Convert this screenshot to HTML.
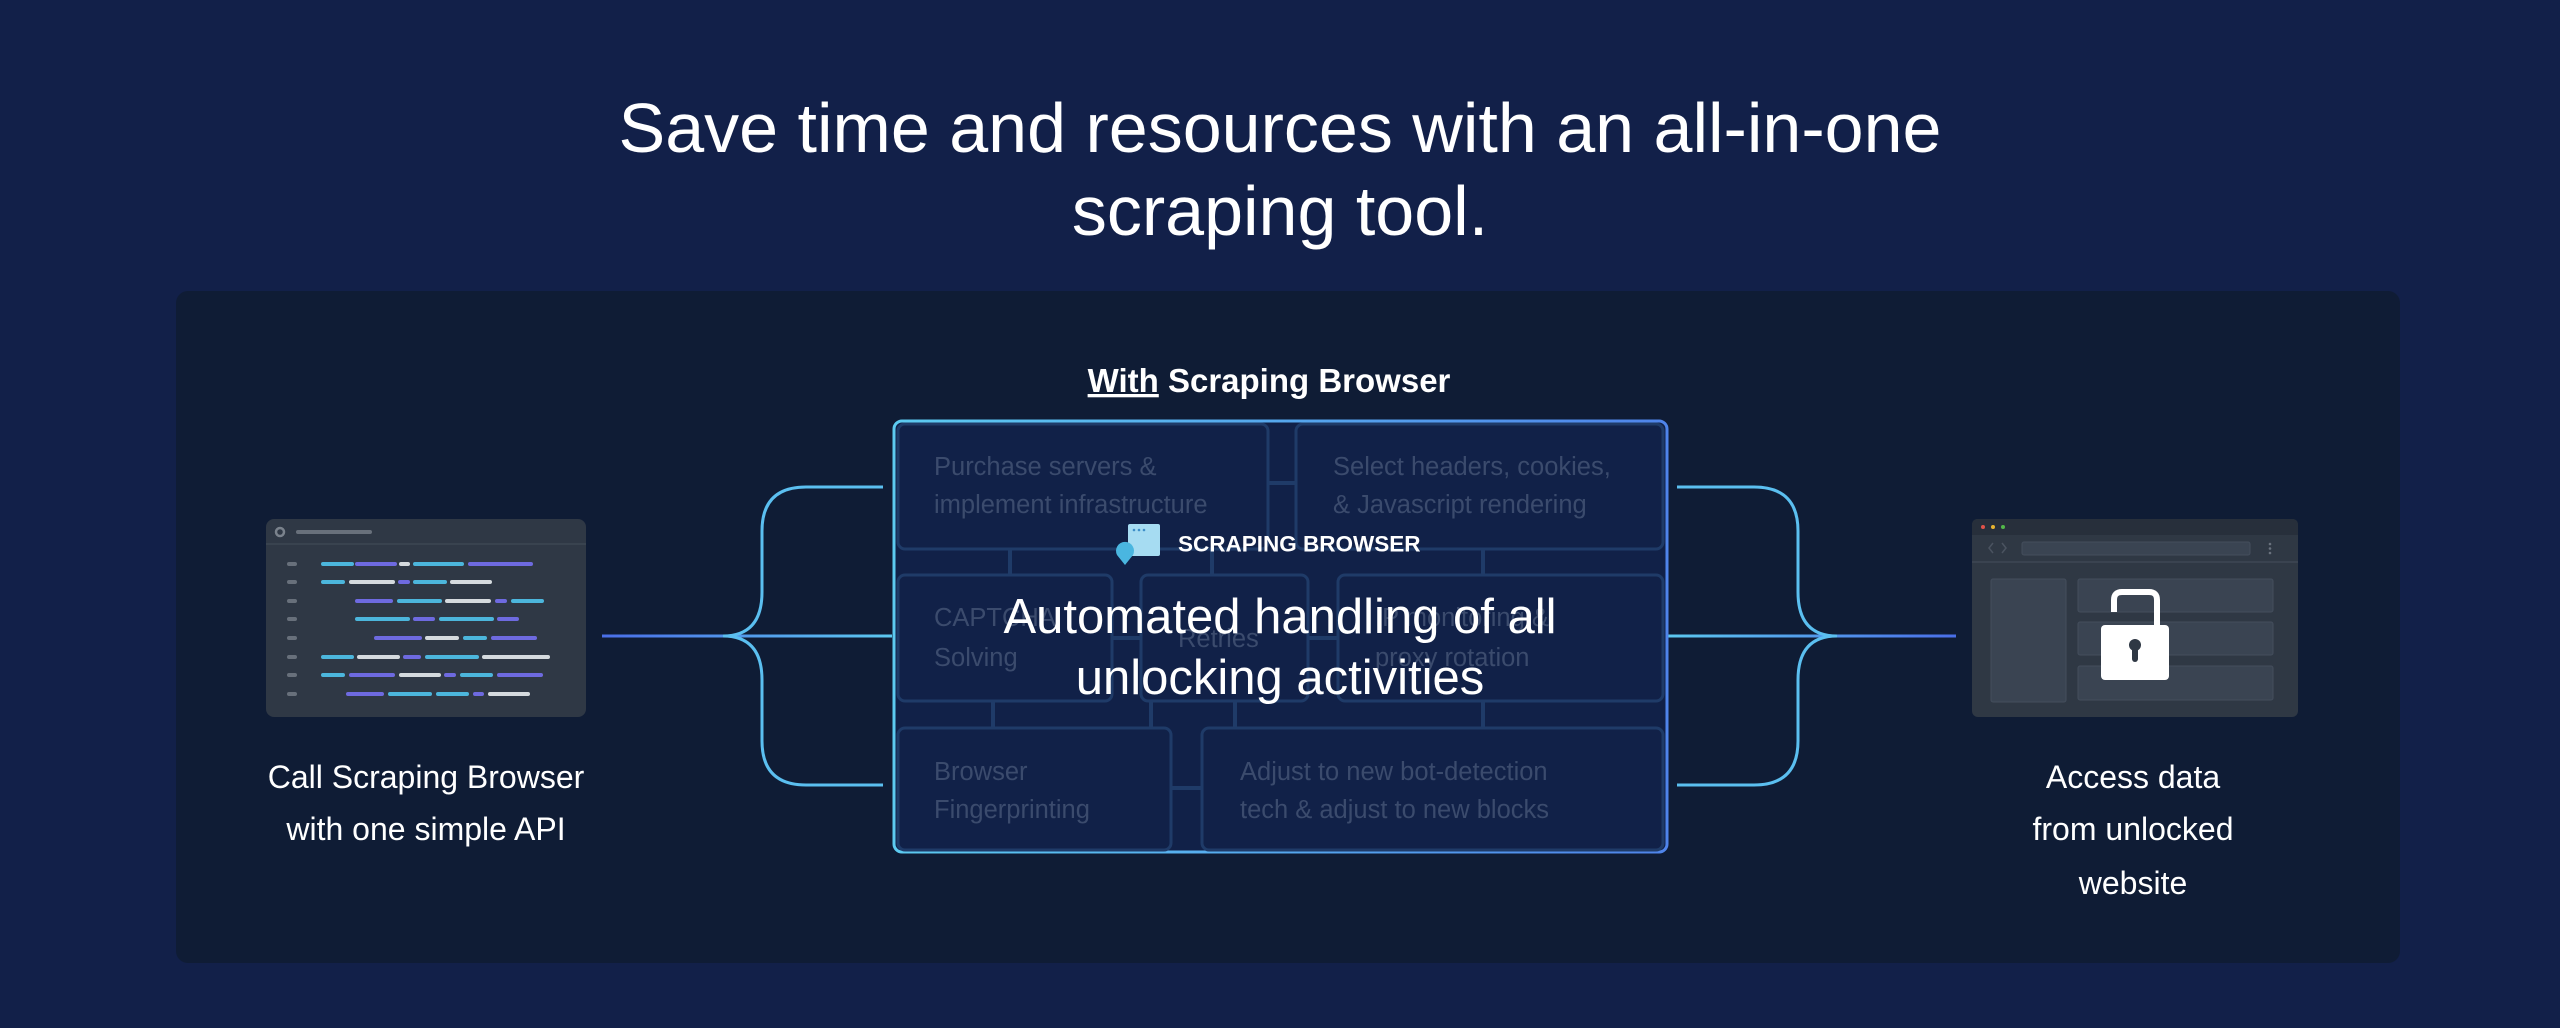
<!DOCTYPE html>
<html><head><meta charset="utf-8"><style>
html,body{margin:0;padding:0;background:#122049;}
svg{display:block;font-family:"Liberation Sans",sans-serif;}
</style></head><body>
<svg width="2560" height="1028" viewBox="0 0 2560 1028" xmlns="http://www.w3.org/2000/svg">
<defs>
<linearGradient id="gl" x1="602" y1="0" x2="892" y2="0" gradientUnits="userSpaceOnUse"><stop offset="0" stop-color="#4a6ee8"/><stop offset="1" stop-color="#5cc8f0"/></linearGradient>
<linearGradient id="gr" x1="1668" y1="0" x2="1956" y2="0" gradientUnits="userSpaceOnUse"><stop offset="0" stop-color="#5cc8f0"/><stop offset="1" stop-color="#4a6ee8"/></linearGradient>
<linearGradient id="gb" x1="894" y1="0" x2="1667" y2="0" gradientUnits="userSpaceOnUse"><stop offset="0" stop-color="#5ccaf0"/><stop offset="1" stop-color="#4f84ea"/></linearGradient>
</defs>
<rect width="2560" height="1028" fill="#122049"/>
<text x="1280" y="152" text-anchor="middle" font-size="70" fill="#fff">Save time and resources with an all-in-one</text>
<text x="1280" y="235" text-anchor="middle" font-size="70" fill="#fff">scraping tool.</text>
<rect x="176" y="291" width="2224" height="672" rx="12" fill="#0f1c35"/>

<text x="1269" y="392" text-anchor="middle" font-size="33" font-weight="bold" fill="#fff"><tspan text-decoration="underline">With</tspan> Scraping Browser</text>

<g fill="none" stroke-width="3">
<line x1="602" y1="636" x2="892" y2="636" stroke="url(#gl)"/>
<path d="M883 487 H806 Q762 487 762 531 V592 Q762 636 723 636 M883 785 H806 Q762 785 762 741 V680 Q762 636 723 636" stroke="#5bbff0"/>
<line x1="1668" y1="636" x2="1956" y2="636" stroke="url(#gr)"/>
<path d="M1677 487 H1754 Q1798 487 1798 531 V592 Q1798 636 1837 636 M1677 785 H1754 Q1798 785 1798 741 V680 Q1798 636 1837 636" stroke="#5bbff0"/>
</g>

<rect x="894" y="421" width="773" height="431" rx="8" fill="#112148" stroke="url(#gb)" stroke-width="3"/>
<g stroke="#1f3b68" stroke-width="4" fill="none">
<line x1="1267" y1="483" x2="1296" y2="483"/>
<line x1="1010" y1="549" x2="1010" y2="575"/>
<line x1="1212" y1="549" x2="1212" y2="575"/>
<line x1="1483" y1="549" x2="1483" y2="575"/>
<line x1="1112" y1="638" x2="1141" y2="638"/>
<line x1="1308" y1="638" x2="1338" y2="638"/>
<line x1="993" y1="701" x2="993" y2="728"/>
<line x1="1151" y1="701" x2="1151" y2="728"/>
<line x1="1235" y1="701" x2="1235" y2="728"/>
<line x1="1483" y1="701" x2="1483" y2="728"/>
<line x1="1171" y1="788" x2="1202" y2="788"/>
</g>
<g fill="#112148" stroke="#1f3b68" stroke-width="3">
<rect x="898" y="424" width="370" height="125" rx="7"/>
<rect x="1296" y="424" width="367" height="125" rx="7"/>
<rect x="898" y="575" width="214" height="126" rx="7"/>
<rect x="1141" y="575" width="167" height="126" rx="7"/>
<rect x="1338" y="575" width="325" height="126" rx="7"/>
<rect x="898" y="728" width="273" height="122" rx="7"/>
<rect x="1202" y="728" width="461" height="122" rx="7"/>
</g>
<g font-size="25.5" fill="#3b4b6d" dominant-baseline="central">
<text x="934" y="467">Purchase servers &amp;</text>
<text x="934" y="505">implement infrastructure</text>
<text x="1333" y="467">Select headers, cookies,</text>
<text x="1333" y="505">&amp; Javascript rendering</text>
<text x="934" y="618">CAPTCHA</text>
<text x="934" y="658">Solving</text>
<text x="1178" y="639">Retries</text>
<text x="1375" y="618">IP monitoring &amp;</text>
<text x="1375" y="658">proxy rotation</text>
<text x="934" y="772">Browser</text>
<text x="934" y="810">Fingerprinting</text>
<text x="1240" y="772">Adjust to new bot-detection</text>
<text x="1240" y="810">tech &amp; adjust to new blocks</text>
</g>
<rect x="1128" y="524" width="32" height="32" rx="2" fill="#a6dcf2"/>
<circle cx="1134" cy="530" r="1.3" fill="#3f8fc8"/><circle cx="1139" cy="530" r="1.3" fill="#3f8fc8"/><circle cx="1144" cy="530" r="1.3" fill="#3f8fc8"/>
<path d="M1125 565 L1117 555 A9 9 0 1 1 1133 555 Z" fill="#4ab6e0"/>
<text x="1178" y="544" font-size="22.5" font-weight="bold" fill="#fff" dominant-baseline="central">SCRAPING BROWSER</text>
<text x="1280" y="617" text-anchor="middle" font-size="49" fill="#fff" dominant-baseline="central">Automated handling of all</text>
<text x="1280" y="678" text-anchor="middle" font-size="49" fill="#fff" dominant-baseline="central">unlocking activities</text>

<rect x="266" y="519" width="320" height="198" rx="8" fill="#2f3845"/>
<line x1="266" y1="544" x2="586" y2="544" stroke="#39434f" stroke-width="2"/>
<circle cx="280" cy="532" r="4" fill="none" stroke="#7a828c" stroke-width="2.5"/>
<rect x="296" y="530" width="76" height="4" rx="2" fill="#68707b"/>
<g stroke-width="4" stroke-linecap="round">
<g stroke="#68707b"><path d="M289 564h6M289 582h6M289 601h6M289 619h6M289 638h6M289 657h6M289 675h6M289 694h6"/></g>
<g stroke="#4cb6dc"><path d="M323 564h29M415 564h47M323 582h20M415 582h30M399 601h41M513 601h29M357 619h51M441 619h51M465 638h20M323 657h29M427 657h50M323 675h20M462 675h29M390 694h40M438 694h29"/></g>
<g stroke="#6e6ae0"><path d="M357 564h38M470 564h61M400 582h8M357 601h34M497 601h8M415 619h18M499 619h18M376 638h44M493 638h42M405 657h14M351 675h42M446 675h8M499 675h42M348 694h34M475 694h7"/></g>
<g stroke="#d5dade"><path d="M401 564h7M351 582h42M452 582h38M447 601h42M427 638h30M359 657h39M484 657h64M401 675h38M490 694h38"/></g>
</g>
<text x="426" y="777" text-anchor="middle" font-size="32" fill="#fff" dominant-baseline="central">Call Scraping Browser</text>
<text x="426" y="829" text-anchor="middle" font-size="32" fill="#fff" dominant-baseline="central">with one simple API</text>

<rect x="1972" y="519" width="326" height="198" rx="6" fill="#2f3844"/>
<path d="M1972 535 V525 Q1972 519 1978 519 H2292 Q2298 519 2298 525 V535 Z" fill="#272f3b"/>
<line x1="1972" y1="562" x2="2298" y2="562" stroke="#3a4350" stroke-width="2"/>
<circle cx="1983" cy="527" r="2" fill="#e0524a"/><circle cx="1993" cy="527" r="2" fill="#e8b430"/><circle cx="2003" cy="527" r="2" fill="#52b84a"/>
<path d="M1993 543 l-4 5 l4 5 M2002 543 l4 5 l-4 5" fill="none" stroke="#4a5360" stroke-width="1.5"/>
<rect x="2022" y="542" width="228" height="13" rx="2" fill="#3a4452" stroke="#444e5c"/>
<circle cx="2270" cy="544" r="1.3" fill="#6a727e"/><circle cx="2270" cy="548.5" r="1.3" fill="#6a727e"/><circle cx="2270" cy="553" r="1.3" fill="#6a727e"/>
<g fill="#3a4452" stroke="#444e5c" stroke-width="1">
<rect x="1991" y="579" width="75" height="123" rx="2"/>
<rect x="2078" y="579" width="195" height="33" rx="2"/>
<rect x="2078" y="622" width="195" height="33" rx="2"/>
<rect x="2078" y="666" width="195" height="34" rx="2"/>
</g>
<path d="M2114 612 V600 Q2114 592 2122 592 H2149 Q2157 592 2157 600 V626" fill="none" stroke="#fff" stroke-width="6"/>
<rect x="2101" y="625" width="68" height="55" rx="4" fill="#fff"/>
<circle cx="2135" cy="645" r="6" fill="#2f3844"/>
<rect x="2132" y="645" width="6" height="17" rx="3" fill="#2f3844"/>
<text x="2133" y="777" text-anchor="middle" font-size="32" fill="#fff" dominant-baseline="central">Access data</text>
<text x="2133" y="829" text-anchor="middle" font-size="32" fill="#fff" dominant-baseline="central">from unlocked</text>
<text x="2133" y="883" text-anchor="middle" font-size="32" fill="#fff" dominant-baseline="central">website</text>
</svg>
</body></html>
